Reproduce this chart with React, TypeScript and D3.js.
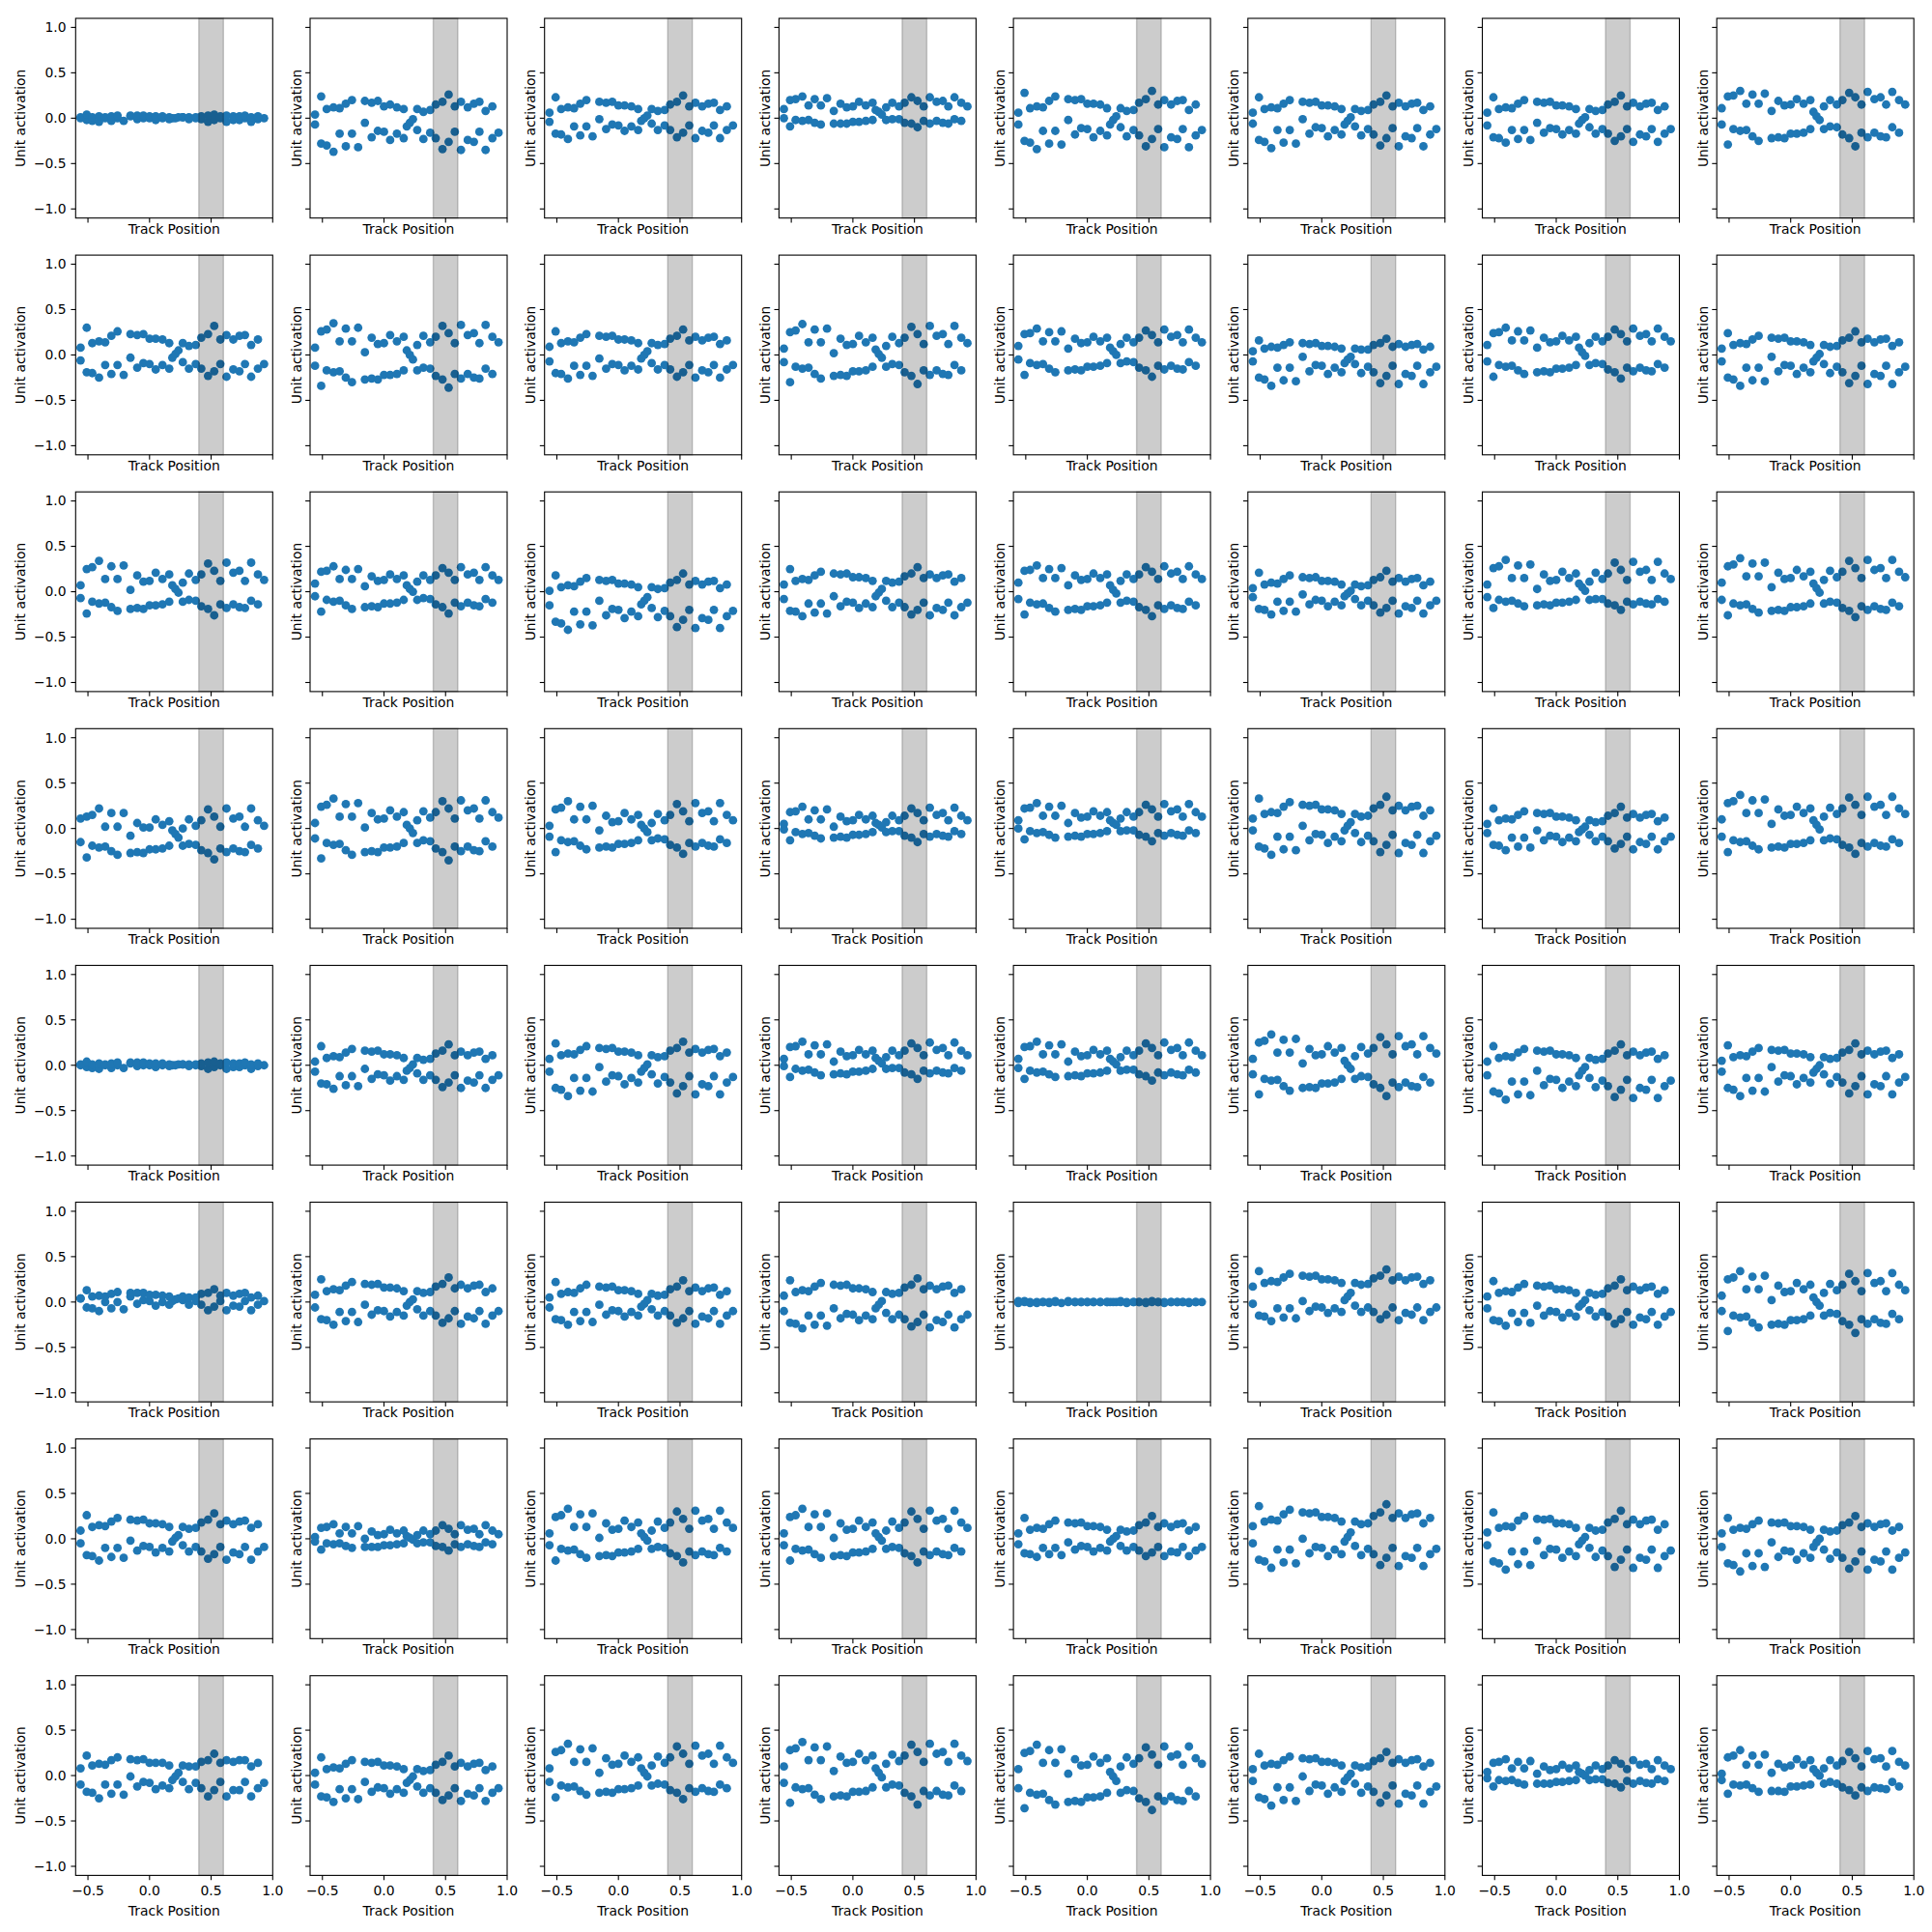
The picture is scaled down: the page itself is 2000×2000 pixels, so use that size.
import React from "react";
import * as d3 from "d3";

// track positions shared by every unit: the jagged run first (with the 3 crossing points), then the smooth run
const TRACK_POS = [
  -0.56, -0.51, -0.465, -0.41, -0.36, -0.31, -0.26, -0.21, -0.155, -0.1, -0.05, 0, 0.05, 0.105, 0.16,
  0.185, 0.21, 0.235,
  0.27, 0.32, 0.375, 0.42, 0.475, 0.525, 0.575, 0.625, 0.68, 0.73, 0.775, 0.825, 0.88, 0.93,
  -0.56, -0.51, -0.465, -0.41, -0.36, -0.31, -0.26, -0.155, -0.1, -0.05, 0, 0.05, 0.105, 0.16,
  0.27, 0.32, 0.375, 0.42, 0.475, 0.525, 0.575, 0.625, 0.68, 0.73, 0.775, 0.825, 0.88,
];

// unit activation x100, one array per unit, same order as TRACK_POS
const ROW_0 = [
  [1,-2,-3,-4,0,-3,0,-3,2,-1,0,0,-2,0,-1, 0,0,1, 1,-1,0,-1,-4,-2,0,-4,-2,-2,0,-4,-1,0, 0,4,1,2,1,2,3,3,3,3,2,2,2,1,1,1,1,2,3,4,2,3,2,2,3,1,2],
  [-7,-28,-30,-37,-17,-31,-17,-32,-5,-21,-14,-15,-24,-17,-22, -9,-5,-1, -13,-23,-16,-22,-34,-26,-15,-35,-24,-26,-15,-35,-22,-16, 4,24,10,12,11,16,20,19,17,19,13,15,12,10,10,7,9,15,18,26,13,18,12,16,18,8,13],
  [-4,-17,-18,-23,-9,-19,-9,-20,-1,-12,-7,-8,-14,-9,-13, -3,0,3, -6,-13,-8,-13,-21,-16,-8,-22,-14,-16,-8,-22,-13,-8, 6,23,10,12,11,16,20,18,17,18,14,14,13,10,10,8,9,15,18,25,13,17,13,16,17,9,13],
  [10,20,21,24,14,21,14,22,8,16,12,13,18,14,17, 9,7,4, 12,17,13,17,23,19,13,23,18,19,13,23,17,13, 0,-9,-2,-3,-2,-5,-7,-6,-6,-6,-4,-4,-3,-2,-2,-1,-1,-5,-6,-10,-3,-6,-3,-5,-6,-1,-3],
  [-7,-25,-27,-34,-14,-28,-14,-29,-2,-18,-11,-12,-21,-14,-19, -7,-2,2, -10,-20,-13,-19,-31,-23,-12,-32,-21,-23,-12,-32,-19,-13, 6,28,11,13,12,19,24,21,20,21,16,16,15,11,11,8,9,17,21,30,15,20,15,19,20,9,15],
  [-6,-24,-26,-33,-13,-27,-13,-28,-1,-17,-10,-11,-20,-13,-18, -7,-3,1, -9,-19,-12,-18,-30,-22,-11,-31,-20,-22,-11,-31,-18,-12, 6,23,10,12,11,16,20,18,17,18,14,14,13,10,10,8,9,15,18,25,13,17,13,16,17,9,13],
  [-8,-21,-22,-27,-13,-23,-13,-24,-5,-16,-11,-12,-18,-13,-17, -6,-2,1, -10,-17,-12,-17,-25,-20,-12,-26,-18,-20,-12,-26,-17,-12, 6,23,10,12,11,16,20,18,17,18,14,14,13,10,10,8,9,15,18,25,13,17,13,16,17,9,13],
  [11,24,25,30,16,26,16,27,8,19,14,15,21,16,20, 7,2,-2, 13,20,15,20,28,23,15,29,21,23,15,29,20,15, -7,-29,-12,-14,-13,-20,-25,-22,-21,-22,-17,-17,-16,-12,-12,-9,-10,-18,-22,-31,-16,-21,-16,-20,-21,-10,-16],
];

const ROW_1 = [
  [-6,-19,-20,-25,-11,-21,-11,-22,-3,-14,-9,-10,-16,-11,-15, -3,1,5, -8,-15,-10,-15,-23,-18,-10,-24,-16,-18,-10,-24,-15,-10, 8,30,13,15,14,21,26,23,22,23,18,18,17,13,13,10,11,19,23,32,17,22,17,21,22,11,17],
  [8,26,28,35,15,29,15,30,3,19,12,13,22,15,20, 5,0,-5, 11,21,14,20,32,24,13,33,22,24,13,33,20,14, -12,-34,-17,-19,-18,-25,-30,-27,-26,-27,-22,-22,-21,-17,-17,-14,-15,-23,-27,-36,-21,-26,-21,-25,-26,-15,-21],
  [-7,-20,-21,-26,-12,-22,-12,-23,-4,-15,-10,-11,-17,-12,-16, -4,0,4, -9,-16,-11,-16,-24,-19,-11,-25,-17,-19,-11,-25,-16,-11, 9,26,13,15,14,19,23,21,20,21,17,17,16,13,13,11,12,18,21,28,16,20,16,19,20,12,16],
  [7,25,27,34,14,28,14,29,2,18,11,12,21,14,19, 6,1,-3, 10,20,13,19,31,23,12,32,21,23,12,32,19,13, -8,-30,-13,-15,-14,-21,-26,-23,-22,-23,-18,-18,-17,-13,-13,-10,-11,-19,-23,-32,-17,-22,-17,-21,-22,-11,-17],
  [10,23,24,29,15,25,15,26,7,18,13,14,20,15,19, 8,4,0, 12,19,14,19,27,22,14,28,20,22,14,28,19,14, -5,-22,-9,-11,-10,-15,-19,-17,-16,-17,-13,-13,-12,-9,-9,-7,-8,-14,-17,-24,-12,-16,-12,-15,-16,-8,-12],
  [-7,-25,-27,-34,-14,-28,-14,-29,-2,-18,-11,-12,-21,-14,-19, -9,-5,-2, -10,-20,-13,-19,-31,-23,-12,-32,-21,-23,-12,-32,-19,-13, 4,16,7,9,8,11,14,13,12,13,10,10,9,7,7,6,6,11,13,18,9,12,9,11,12,6,9],
  [11,24,25,30,16,26,16,27,8,19,14,15,21,16,20, 8,3,-1, 13,20,15,20,28,23,15,29,21,23,15,29,20,15, -7,-24,-11,-13,-12,-17,-21,-19,-18,-19,-15,-15,-14,-11,-11,-9,-10,-16,-19,-26,-14,-18,-14,-17,-18,-10,-14],
  [-7,-25,-27,-34,-14,-28,-14,-29,-2,-18,-11,-12,-21,-14,-19, -7,-3,1, -10,-20,-13,-19,-31,-23,-12,-32,-21,-23,-12,-32,-19,-13, 7,24,11,13,12,17,21,19,18,19,15,15,14,11,11,9,10,16,19,26,14,18,14,17,18,10,14],
];

const ROW_2 = [
  [7,25,27,34,14,28,14,29,2,18,11,12,21,14,19, 7,3,-1, 10,20,13,19,31,23,12,32,21,23,12,32,19,13, -7,-24,-11,-13,-12,-17,-21,-19,-18,-19,-15,-15,-14,-11,-11,-9,-10,-16,-19,-26,-14,-18,-14,-17,-18,-10,-14],
  [9,22,23,28,14,24,14,25,6,17,12,13,19,14,18, 7,3,0, 11,18,13,18,26,21,13,27,19,21,13,27,18,13, -5,-22,-9,-11,-10,-15,-19,-17,-16,-17,-13,-13,-12,-9,-9,-7,-8,-14,-17,-24,-12,-16,-12,-15,-16,-8,-12],
  [-15,-33,-35,-42,-22,-36,-22,-37,-10,-26,-19,-20,-29,-22,-27, -14,-10,-6, -18,-28,-21,-27,-39,-31,-20,-40,-29,-31,-20,-40,-27,-21, 1,18,5,7,6,11,15,13,12,13,9,9,8,5,5,3,4,10,13,20,8,12,8,11,12,4,8],
  [-8,-21,-22,-27,-13,-23,-13,-24,-5,-16,-11,-12,-18,-13,-17, -5,-1,3, -10,-17,-12,-17,-25,-20,-12,-26,-18,-20,-12,-26,-17,-12, 8,25,12,14,13,18,22,20,19,20,16,16,15,12,12,10,11,17,20,27,15,19,15,18,19,11,15],
  [10,23,24,29,15,25,15,26,7,18,13,14,20,15,19, 7,2,-2, 12,19,14,19,27,22,14,28,20,22,14,28,19,14, -8,-25,-12,-14,-13,-18,-22,-20,-19,-20,-16,-16,-15,-12,-12,-10,-11,-17,-20,-27,-15,-19,-15,-18,-19,-11,-15],
  [-6,-19,-20,-25,-11,-21,-11,-22,-3,-14,-9,-10,-16,-11,-15, -5,-2,1, -8,-15,-10,-15,-23,-18,-10,-24,-16,-18,-10,-24,-15,-10, 4,21,8,10,9,14,18,16,15,16,12,12,11,8,8,6,7,13,16,23,11,15,11,14,15,7,11],
  [8,26,28,35,15,29,15,30,3,19,12,13,22,15,20, 9,5,1, 11,21,14,20,32,24,13,33,22,24,13,33,20,14, -6,-18,-9,-11,-10,-13,-16,-15,-14,-15,-12,-12,-11,-9,-9,-8,-8,-13,-15,-20,-11,-14,-11,-13,-14,-8,-11],
  [10,28,30,37,17,31,17,32,5,21,14,15,24,17,22, 9,4,-1, 13,23,16,22,34,26,15,35,24,26,15,35,22,16, -9,-26,-13,-15,-14,-19,-23,-21,-20,-21,-17,-17,-16,-13,-13,-11,-12,-18,-21,-28,-16,-20,-16,-19,-20,-12,-16],
];

const ROW_3 = [
  [11,13,15,22,2,17,2,17,-8,6,1,1,10,4,8, -2,-6,-10, 0,10,3,9,21,13,2,22,11,13,2,22,9,3, -15,-32,-19,-21,-20,-25,-29,-27,-26,-27,-23,-23,-22,-19,-19,-17,-18,-24,-27,-34,-22,-26,-22,-25,-26,-18,-22],
  [6,24,26,33,13,27,13,28,1,17,10,11,20,13,18, 4,0,-5, 9,19,12,18,30,22,11,31,20,22,11,31,18,12, -11,-33,-16,-18,-17,-24,-29,-26,-25,-26,-21,-21,-20,-16,-16,-13,-14,-22,-26,-35,-20,-25,-20,-24,-25,-14,-20],
  [3,21,23,30,10,24,10,25,-2,14,7,8,17,10,15, 4,0,-4, 6,16,9,15,27,19,8,28,17,19,8,28,15,9, -9,-26,-13,-15,-14,-19,-23,-21,-20,-21,-17,-17,-16,-13,-13,-11,-12,-18,-21,-28,-16,-20,-16,-19,-20,-12,-16],
  [5,18,19,24,10,20,10,21,2,13,8,9,15,10,14, 6,4,1, 7,14,9,14,22,17,9,23,15,17,9,23,14,9, -1,-13,-4,-6,-5,-8,-11,-10,-9,-10,-7,-7,-6,-4,-4,-3,-3,-8,-10,-15,-6,-9,-6,-8,-9,-3,-6],
  [9,22,23,28,14,24,14,25,6,17,12,13,19,14,18, 9,6,4, 11,18,13,18,26,21,13,27,19,21,13,27,18,13, 0,-12,-3,-5,-4,-7,-10,-9,-8,-9,-6,-6,-5,-3,-3,-2,-2,-7,-9,-14,-5,-8,-5,-7,-8,-2,-5],
  [-2,-20,-22,-29,-9,-23,-9,-24,3,-13,-6,-7,-16,-9,-14, -2,3,7, -5,-15,-8,-14,-26,-18,-7,-27,-16,-18,-7,-27,-14,-8, 11,33,16,18,17,24,29,26,25,26,21,21,20,16,16,13,14,22,26,35,20,25,20,24,25,14,20],
  [-5,-18,-19,-24,-10,-20,-10,-21,-2,-13,-8,-9,-15,-10,-14, -4,-1,2, -7,-14,-9,-14,-22,-17,-9,-23,-15,-17,-9,-23,-14,-9, 5,22,9,11,10,15,19,17,16,17,13,13,12,9,9,7,8,14,17,24,12,16,12,15,16,8,12],
  [10,28,30,37,17,31,17,32,5,21,14,15,24,17,22, 9,4,-1, 13,23,16,22,34,26,15,35,24,26,15,35,22,16, -9,-26,-13,-15,-14,-19,-23,-21,-20,-21,-17,-17,-16,-13,-13,-11,-12,-18,-21,-28,-16,-20,-16,-19,-20,-12,-16],
];

const ROW_4 = [
  [1,-2,-3,-4,0,-3,0,-3,2,-1,0,0,-2,0,-1, 0,0,1, 1,-1,0,-1,-4,-2,0,-4,-2,-2,0,-4,-1,0, 0,4,1,2,1,2,3,3,3,3,2,2,2,1,1,1,1,2,3,4,2,3,2,2,3,1,2],
  [-7,-20,-21,-26,-12,-22,-12,-23,-4,-15,-10,-11,-17,-12,-16, -6,-3,1, -9,-16,-11,-16,-24,-19,-11,-25,-17,-19,-11,-25,-16,-11, 4,21,8,10,9,14,18,16,15,16,12,12,11,8,8,6,7,13,16,23,11,15,11,14,15,7,11],
  [-7,-25,-27,-34,-14,-28,-14,-29,-2,-18,-11,-12,-21,-14,-19, -7,-3,1, -10,-20,-13,-19,-31,-23,-12,-32,-21,-23,-12,-32,-19,-13, 7,24,11,13,12,17,21,19,18,19,15,15,14,11,11,9,10,16,19,26,14,18,14,17,18,10,14],
  [7,20,21,26,12,22,12,23,4,15,10,11,17,12,16, 8,5,2, 9,16,11,16,24,19,11,25,17,19,11,25,16,11, -1,-13,-4,-6,-5,-8,-11,-10,-9,-10,-7,-7,-6,-4,-4,-3,-3,-8,-10,-15,-6,-9,-6,-8,-9,-3,-6],
  [7,20,21,26,12,22,12,23,4,15,10,11,17,12,16, 7,4,1, 9,16,11,16,24,19,11,25,17,19,11,25,16,11, -3,-15,-6,-8,-7,-10,-13,-12,-11,-12,-9,-9,-8,-6,-6,-5,-5,-10,-12,-17,-8,-11,-8,-10,-11,-5,-8],
  [7,25,27,34,14,28,14,29,2,18,11,12,21,14,19, 5,0,-4, 10,20,13,19,31,23,12,32,21,23,12,32,19,13, -10,-32,-15,-17,-16,-23,-28,-25,-24,-25,-20,-20,-19,-15,-15,-12,-13,-21,-25,-34,-19,-24,-19,-23,-24,-13,-19],
  [-11,-29,-31,-38,-18,-32,-18,-33,-6,-22,-15,-16,-25,-18,-23, -11,-6,-2, -14,-24,-17,-23,-35,-27,-16,-36,-25,-27,-16,-36,-23,-17, 4,21,8,10,9,14,18,16,15,16,12,12,11,8,8,6,7,13,16,23,11,15,11,14,15,7,11],
  [-7,-25,-27,-34,-14,-28,-14,-29,-2,-18,-11,-12,-21,-14,-19, -8,-4,0, -10,-20,-13,-19,-31,-23,-12,-32,-21,-23,-12,-32,-19,-13, 5,22,9,11,10,15,19,17,16,17,13,13,12,9,9,7,8,14,17,24,12,16,12,15,16,8,12],
];

const ROW_5 = [
  [4,-6,-7,-10,0,-7,0,-8,6,-2,2,1,-4,0,-3, 1,3,4, 2,-3,1,-3,-9,-5,1,-9,-4,-5,1,-9,-3,1, 4,13,6,7,6,9,11,10,10,10,8,8,7,6,6,5,5,9,10,14,7,10,7,9,10,5,7],
  [-6,-19,-20,-25,-11,-21,-11,-22,-3,-14,-9,-10,-16,-11,-15, -4,0,3, -8,-15,-10,-15,-23,-18,-10,-24,-16,-18,-10,-24,-15,-10, 8,25,12,14,13,18,22,20,19,20,16,16,15,12,12,10,11,17,20,27,15,19,15,18,19,11,15],
  [-6,-19,-20,-25,-11,-21,-11,-22,-3,-14,-9,-10,-16,-11,-15, -5,-2,2, -8,-15,-10,-15,-23,-18,-10,-24,-16,-18,-10,-24,-15,-10, 5,22,9,11,10,15,19,17,16,17,13,13,12,9,9,7,8,14,17,24,12,16,12,15,16,8,12],
  [-10,-23,-24,-29,-15,-25,-15,-26,-7,-18,-13,-14,-20,-15,-19, -7,-3,1, -12,-19,-14,-19,-27,-22,-14,-28,-20,-22,-14,-28,-19,-14, 7,24,11,13,12,17,21,19,18,19,15,15,14,11,11,9,10,16,19,26,14,18,14,17,18,10,14],
  [1,0,-1,-1,0,-1,0,-1,1,0,0,0,0,0,0, 0,0,0, 1,0,0,0,-1,0,0,-1,0,0,0,-1,0,0, -1,1,0,0,0,0,1,0,0,0,0,0,0,0,0,-1,0,0,0,1,0,0,0,0,0,0,0],
  [-2,-15,-16,-21,-7,-17,-7,-18,1,-10,-5,-6,-12,-7,-11, 2,6,10, -4,-11,-6,-11,-19,-14,-6,-20,-12,-14,-6,-20,-11,-6, 17,34,21,23,22,27,31,29,28,29,25,25,24,21,21,19,20,26,29,36,24,28,24,27,28,20,24],
  [-7,-20,-21,-26,-12,-22,-12,-23,-4,-15,-10,-11,-17,-12,-16, -5,-2,2, -9,-16,-11,-16,-24,-19,-11,-25,-17,-19,-11,-25,-16,-11, 6,23,10,12,11,16,20,18,17,18,14,14,13,10,10,8,9,15,18,25,13,17,13,16,17,9,13],
  [7,25,27,34,14,28,14,29,2,18,11,12,21,14,19, 5,0,-4, 10,20,13,19,31,23,12,32,21,23,12,32,19,13, -10,-32,-15,-17,-16,-23,-28,-25,-24,-25,-20,-20,-19,-15,-15,-12,-13,-21,-25,-34,-19,-24,-19,-23,-24,-13,-19],
];

const ROW_6 = [
  [-5,-18,-19,-24,-10,-20,-10,-21,-2,-13,-8,-9,-15,-10,-14, -3,1,4, -7,-14,-9,-14,-22,-17,-9,-23,-15,-17,-9,-23,-14,-9, 9,26,13,15,14,19,23,21,20,21,17,17,16,13,13,11,12,18,21,28,16,20,16,19,20,12,16],
  [2,12,13,16,6,13,6,14,0,8,4,5,10,6,9, 3,1,-1, 4,9,5,9,15,11,5,15,10,11,5,15,9,5, -3,-12,-5,-6,-5,-8,-10,-9,-9,-9,-7,-7,-6,-5,-5,-4,-4,-8,-9,-13,-6,-9,-6,-8,-9,-4,-6],
  [6,24,26,33,13,27,13,28,1,17,10,11,20,13,18, 6,2,-2, 9,19,12,18,30,22,11,31,20,22,11,31,18,12, -7,-24,-11,-13,-12,-17,-21,-19,-18,-19,-15,-15,-14,-11,-11,-9,-10,-16,-19,-26,-14,-18,-14,-17,-18,-10,-14],
  [6,24,26,33,13,27,13,28,1,17,10,11,20,13,18, 6,2,-2, 9,19,12,18,30,22,11,31,20,22,11,31,18,12, -7,-24,-11,-13,-12,-17,-21,-19,-18,-19,-15,-15,-14,-11,-11,-9,-10,-16,-19,-26,-14,-18,-14,-17,-18,-10,-14],
  [-6,-16,-17,-20,-10,-17,-10,-18,-4,-12,-8,-9,-14,-10,-13, -3,0,3, -8,-13,-9,-13,-19,-15,-9,-19,-14,-15,-9,-19,-13,-9, 6,23,10,12,11,16,20,18,17,18,14,14,13,10,10,8,9,15,18,25,13,17,13,16,17,9,13],
  [-5,-23,-25,-32,-12,-26,-12,-27,0,-16,-9,-10,-19,-12,-17, -3,2,7, -8,-18,-11,-17,-29,-21,-10,-30,-19,-21,-10,-30,-17,-11, 14,36,19,21,20,27,32,29,28,29,24,24,23,19,19,16,17,25,29,38,23,28,23,27,28,17,23],
  [-7,-25,-27,-34,-14,-28,-14,-29,-2,-18,-11,-12,-21,-14,-19, -6,-2,2, -10,-20,-13,-19,-31,-23,-12,-32,-21,-23,-12,-32,-19,-13, 7,29,12,14,13,20,25,22,21,22,17,17,16,12,12,9,10,18,22,31,16,21,16,20,21,10,16],
  [-9,-27,-29,-36,-16,-30,-16,-31,-4,-20,-13,-14,-23,-16,-21, -9,-4,0, -12,-22,-15,-21,-33,-25,-14,-34,-23,-25,-14,-34,-21,-15, 6,23,10,12,11,16,20,18,17,18,14,14,13,10,10,8,9,15,18,25,13,17,13,16,17,9,13],
];

const ROW_7 = [
  [-10,-18,-19,-25,-10,-20,-10,-21,-1,-12,-7,-8,-15,-11,-14, -5,-1,3, -7,-15,-8,-14,-23,-16,-7,-23,-16,-16,-7,-23,-14,-8, 8,22,11,13,12,17,20,18,17,18,14,14,14,11,11,10,10,15,17,24,14,17,15,17,17,10,14],
  [-10,-23,-24,-29,-15,-25,-15,-26,-7,-18,-13,-14,-20,-15,-19, -8,-5,-1, -12,-19,-14,-19,-27,-22,-14,-28,-20,-22,-14,-28,-19,-14, 3,20,7,9,8,13,17,15,14,15,11,11,10,7,7,5,6,12,15,22,10,14,10,13,14,6,10],
  [8,26,28,35,15,29,15,30,3,19,12,13,22,15,20, 8,3,-1, 11,21,14,20,32,24,13,33,22,24,13,33,20,14, -7,-24,-11,-13,-12,-17,-21,-19,-18,-19,-15,-15,-14,-11,-11,-9,-10,-16,-19,-26,-14,-18,-14,-17,-18,-10,-14],
  [10,28,30,37,17,31,17,32,5,21,14,15,24,17,22, 8,3,-2, 13,23,16,22,34,26,15,35,24,26,15,35,22,16, -8,-30,-13,-15,-14,-21,-26,-23,-22,-23,-18,-18,-17,-13,-13,-10,-11,-19,-23,-32,-17,-22,-17,-21,-22,-11,-17],
  [7,25,27,34,14,28,14,29,2,18,11,12,21,14,19, 4,-1,-6, 10,20,13,19,31,23,12,32,21,23,12,32,19,13, -14,-36,-19,-21,-20,-27,-32,-29,-28,-29,-24,-24,-23,-19,-19,-16,-17,-25,-29,-38,-23,-28,-23,-27,-28,-17,-23],
  [-6,-24,-26,-33,-13,-27,-13,-28,-1,-17,-10,-11,-20,-13,-18, -6,-2,2, -9,-19,-12,-18,-30,-22,-11,-31,-20,-22,-11,-31,-18,-12, 7,24,11,13,12,17,21,19,18,19,15,15,14,11,11,9,10,16,19,26,14,18,14,17,18,10,14],
  [4,14,15,18,8,15,8,16,2,10,6,7,12,8,11, 4,2,0, 6,11,7,11,17,13,7,17,12,13,7,17,11,7, -3,-12,-5,-6,-5,-8,-10,-9,-9,-9,-7,-7,-6,-5,-5,-4,-4,-8,-9,-13,-6,-9,-6,-8,-9,-4,-6],
  [2,20,22,28,12,22,12,23,3,13,9,11,18,12,17, 7,3,0, 8,17,11,16,26,19,10,27,18,19,10,27,15,11, -5,-20,-10,-11,-10,-14,-18,-17,-17,-18,-12,-12,-11,-10,-9,-7,-9,-13,-16,-22,-13,-17,-13,-14,-15,-7,-12],
];

const ROWS = [ROW_0, ROW_1, ROW_2, ROW_3, ROW_4, ROW_5, ROW_6, ROW_7];

const X_TICKS = [-0.5, 0, 0.5, 1.0];
const Y_TICKS = [-1.0, -0.5, 0, 0.5, 1.0];
const BAND = [0.4, 0.6];

const LEFT0 = 78.3;
const COL_STEP = 242.7;
const TOP0 = 19;
const ROW_STEP = 245.1;
const PANEL_W = 204;
const PANEL_H = 206.7;
const TICK = 4.9;

const fmt = (v: number) => v.toFixed(1).replace("-", "\u2212");

function Panel({ vals, row, col }: { vals: number[]; row: number; col: number }) {
  const x = d3.scaleLinear().domain([-0.6, 1.0]).range([0, PANEL_W]);
  const y = d3.scaleLinear().domain([-1.1, 1.1]).range([PANEL_H, 0]);
  const left = LEFT0 + col * COL_STEP;
  const top = TOP0 + row * ROW_STEP;
  const last = row === ROWS.length - 1;

  return (
    <g transform={`translate(${left},${top})`}>
      {vals.map((v, i) => (
        <circle key={i} cx={x(TRACK_POS[i])} cy={y(v / 100)} r={4.4} fill="#1f77b4" />
      ))}
      {/* shaded reward zone drawn over the points, like the original */}
      <rect
        x={x(BAND[0])}
        y={0}
        width={x(BAND[1]) - x(BAND[0])}
        height={PANEL_H}
        fill="rgba(0,0,0,0.2)"
        stroke="rgba(0,0,0,0.2)"
        strokeWidth={1.4}
      />
      <rect x={0} y={0} width={PANEL_W} height={PANEL_H} fill="none" stroke="#000" strokeWidth={1.1} />
      {X_TICKS.map((t) => (
        <g key={"x" + t}>
          <line x1={x(t)} x2={x(t)} y1={PANEL_H} y2={PANEL_H + TICK} stroke="#000" strokeWidth={1.1} />
          {last && (
            <text x={x(t)} y={PANEL_H + 20.5} textAnchor="middle">
              {fmt(t)}
            </text>
          )}
        </g>
      ))}
      {Y_TICKS.map((t) => (
        <g key={"y" + t}>
          <line x1={-TICK} x2={0} y1={y(t)} y2={y(t)} stroke="#000" strokeWidth={1.1} />
          {col === 0 && (
            <text x={-9.7} y={y(t)} dy="0.35em" textAnchor="end">
              {fmt(t)}
            </text>
          )}
        </g>
      ))}
      <text x={PANEL_W / 2} y={PANEL_H + (last ? 41.5 : 16)} textAnchor="middle">
        Track Position
      </text>
      <text
        transform={`translate(${col === 0 ? -52 : -9.4},${PANEL_H / 2}) rotate(-90)`}
        textAnchor="middle"
      >
        Unit activation
      </text>
    </g>
  );
}

export default function App() {
  return (
    <svg
      width={2000}
      height={2000}
      style={{ position: "absolute", left: 0, top: 0, display: "block" }}
      fontFamily="DejaVu Sans"
      fontSize={13.9}
      fill="#000"
    >
      <rect width={2000} height={2000} fill="#fff" />
      {ROWS.map((row, r) =>
        row.map((vals, c) => <Panel key={`${r}-${c}`} vals={vals} row={r} col={c} />)
      )}
    </svg>
  );
}
